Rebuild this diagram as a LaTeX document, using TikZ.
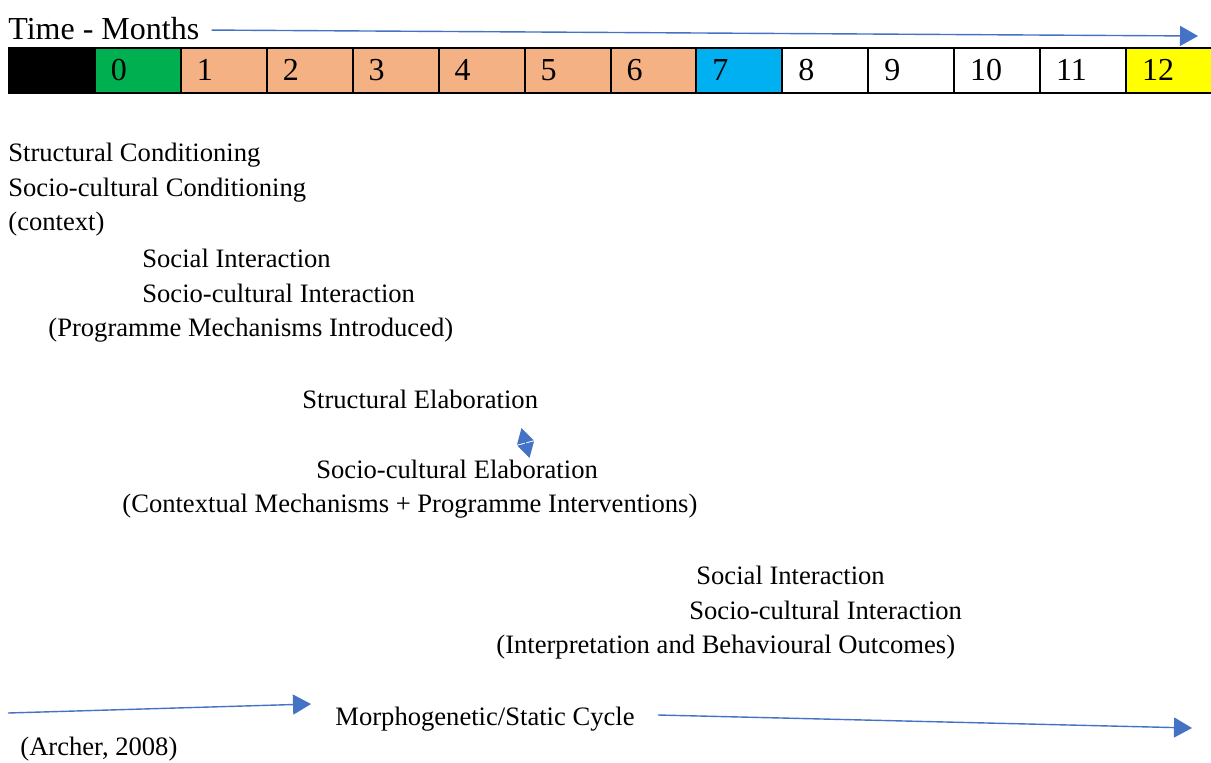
\documentclass[tikz,border=0pt]{standalone}
\usepackage{fontspec}
\setmainfont{Liberation Serif}
\usetikzlibrary{positioning,arrows.meta}

\definecolor{arrblue}{HTML}{4472C4}
\definecolor{mgreen}{HTML}{00B050}
\definecolor{morange}{HTML}{F4B183}
\definecolor{mblue}{HTML}{00B0F0}
\definecolor{myellow}{HTML}{FFFF00}

\begin{document}
\begin{tikzpicture}[
  x=0.5pt, y=-0.5pt,
  txt/.style={anchor=base west, inner sep=0pt, font=\fontsize{13.3}{16}\selectfont},
  cell/.style={draw, line width=1pt, anchor=west, minimum width=42.96pt, minimum height=22.5pt,
    inner xsep=8pt, text width=26.96pt, align=left, font=\fontsize{16}{18}\selectfont},
  arr/.style={draw=arrblue, line width=0.7pt, -{Triangle[length=9pt,width=10pt,fill=arrblue]}}
]
\useasboundingbox (0,0) rectangle (1211,762);
% time axis
\node[txt, font=\fontsize{16}{18}\selectfont] (timelbl) at (8,39) {Time - Months};
\coordinate (tend) at (1198,36);
\draw[arr] (timelbl.east) ++(6pt,-1pt) -- (tend);
\foreach \m/\c [count=\k from 0] in {/black, 0/mgreen, 1/morange, 2/morange, 3/morange, 4/morange,
    5/morange, 6/morange, 7/mblue, 8/white, 9/white, 10/white, 11/white, 12/myellow}
  \node[cell, fill=\c] (m\k) at (8+\k*85.93,70) {\m};

% conditioning
\node[txt] (strcond) at (8,161) {Structural Conditioning};
\node[txt] (scond) at (8,196) {Socio-cultural Conditioning};
\node[txt] (ctx) at (8,230) {(context)};
\node[txt] (sint1) at (142,267) {Social Interaction};
\node[txt] (scint1) at (142,302) {Socio-cultural Interaction};
\node[txt] (progmech) at (48,336) {(Programme Mechanisms Introduced)};

% elaboration
\node[txt] (strelab) at (302,408) {Structural Elaboration};
\node[txt] (scelab) at (316,478) {Socio-cultural Elaboration};
\node[txt] (ctxmech) at (122,512) {(Contextual Mechanisms + Programme Interventions)};
\coordinate (etop) at (521.5,428);
\coordinate (ebot) at (529.5,458);
\draw[arr, {Triangle[length=7.5pt,width=8.5pt,fill=arrblue]}-{Triangle[length=7.5pt,width=8.5pt,fill=arrblue]}] (etop) -- (ebot);

% outcomes
\node[txt] (sint2) at (696,584) {Social Interaction};
\node[txt] (scint2) at (689,619) {Socio-cultural Interaction};
\node[txt] (interp) at (496,653) {(Interpretation and Behavioural Outcomes)};

% cycle
\node[txt] (cycle) at (335,725) {Morphogenetic/Static Cycle};
\coordinate (cstart) at (8,713);
\coordinate (cmid) at (311,704);
\coordinate (cend) at (1192,728);
\draw[arr] (cstart) -- (cmid);
\draw[arr] (658,715) -- (cend);
\node[txt] (archer) at (20,755) {(Archer, 2008)};
\end{tikzpicture}
\end{document}
